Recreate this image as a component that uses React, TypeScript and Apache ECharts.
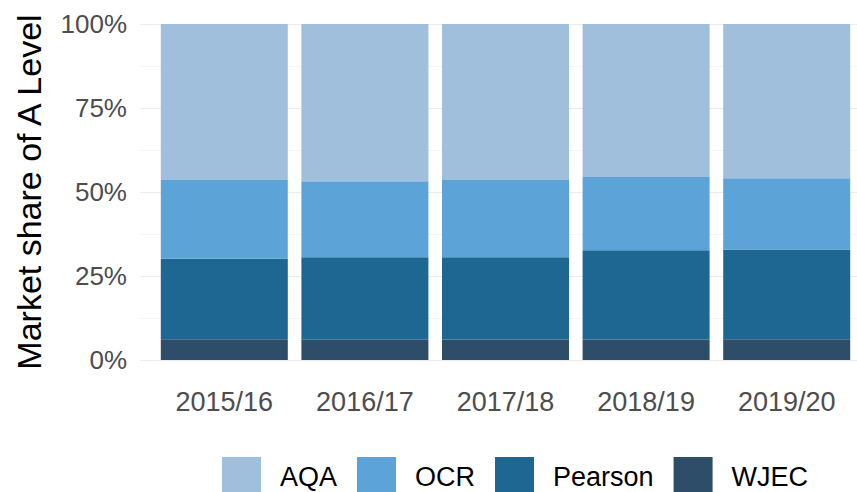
import React, { useEffect, useRef } from "react";
import * as echarts from "echarts";

const categories = ["2015/16", "2016/17", "2017/18", "2018/19", "2019/20"];
const aqa = [46.4, 46.8, 46.4, 45.5, 45.9];
const ocr = [23.5, 22.6, 23.0, 21.8, 21.2];
const pearson = [23.9, 24.6, 24.5, 26.6, 26.7];
const wjec = [6.2, 6.0, 6.1, 6.1, 6.2];
const yTicks = [0, 25, 50, 75, 100];

const FONT = "'Liberation Sans', Arial, sans-serif";

export default function App() {
  const ref = useRef<HTMLDivElement>(null);
  useEffect(() => {
    document.body.style.margin = "0";
    const chart = echarts.init(ref.current!, null, { renderer: "svg" });
    const colors: Record<string, string> = {
      AQA: "#a0bfdd",
      OCR: "#5ca3d7",
      Pearson: "#1e6793",
      WJEC: "#2e4d68",
    };
    const seriesDefs = [
      { name: "WJEC", data: wjec },
      { name: "Pearson", data: pearson },
      { name: "OCR", data: ocr },
      { name: "AQA", data: aqa },
    ];
    chart.setOption({
      animation: false,
      backgroundColor: "#ffffff",
      textStyle: { fontFamily: FONT },
      grid: [
        { left: 140, top: 24, width: 736, height: 336 },
        { left: 154, top: 24, width: 707.5, height: 336 },
      ],
      xAxis: [
        { type: "category", gridIndex: 0, data: categories, show: false },
        {
          type: "category",
          gridIndex: 1,
          data: categories,
          axisLine: { show: false },
          axisTick: { show: false },
          axisLabel: { color: "#4d4d4d", fontSize: 27, margin: 28, fontFamily: FONT },
        },
      ],
      yAxis: [
        {
          type: "value",
          gridIndex: 0,
          min: 0,
          max: 100,
          interval: 25,
          axisLine: { show: false },
          axisTick: { show: false },
          splitLine: { show: true, lineStyle: { color: "#ebebeb", width: 1.2 } },
          minorTick: { show: false, splitNumber: 2 },
          minorSplitLine: { show: true, lineStyle: { color: "#f3f3f3", width: 0.8 } },
          axisLabel: {
            color: "#4d4d4d",
            fontSize: 26,
            margin: 13,
            fontFamily: FONT,
            formatter: (v: number) => (yTicks.includes(v) ? v + "%" : ""),
          },
          name: "Market share of A Level",
          nameLocation: "middle",
          nameGap: 94,
          nameTextStyle: { color: "#000000", fontSize: 34, fontFamily: FONT },
        },
        {
          type: "value",
          gridIndex: 1,
          min: 0,
          max: 100,
          show: false,
          splitLine: { show: false },
        },
      ],
      legend: {
        data: ["AQA", "OCR", "Pearson", "WJEC"],
        left: 222,
        top: 457,
        padding: 0,
        itemWidth: 39,
        itemHeight: 39,
        itemGap: 20,
        icon: "rect",
        textStyle: { color: "#000000", fontSize: 27, fontFamily: FONT, padding: [0, 0, 0, 14] },
      },
      series: seriesDefs.map((s) => ({
        name: s.name,
        type: "bar",
        stack: "total",
        xAxisIndex: 1,
        yAxisIndex: 1,
        data: s.data,
        barWidth: 127,
        itemStyle: { color: colors[s.name] },
      })),
    });
    return () => chart.dispose();
  }, []);
  return <div ref={ref} style={{ width: 857, height: 492 }} />;
}
